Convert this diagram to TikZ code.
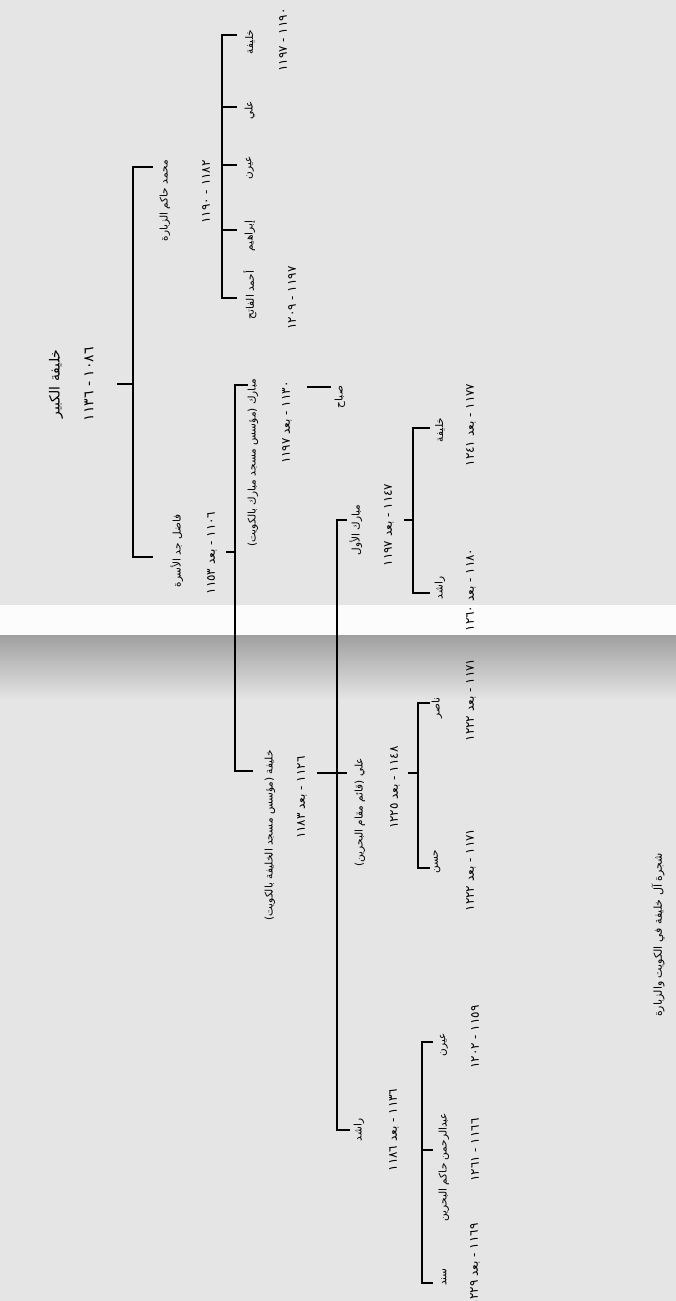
\documentclass[tikz,border=0pt]{standalone}
\usepackage{fontspec}
\newfontfamily\arabicfont[Script=Arabic]{DejaVu Sans}
\TeXXeTstate=1
\usepackage{tikz}
\usetikzlibrary{positioning,calc}

\definecolor{pagegray}{RGB}{229,229,230}
\newcommand{\ar}[1]{\arabicfont\beginR #1\endR}

\begin{document}
\begin{tikzpicture}[x=1pt, y=-1pt,
  tree/.style  = {line width=1.5pt},
  nm/.style    = {rotate=90, anchor=center, inner sep=0pt,
                  font=\fontsize{10.5}{11}\selectfont},
  yr/.style    = {nm, font=\fontsize{12}{13}\selectfont},
  big/.style   = {nm, font=\fontsize{14}{15}\selectfont}
]

% -- page
\fill[pagegray] (0,0) rectangle (676,1301);
\fill[white!90!pagegray] (0,605) rectangle (676,635);
\shade[top color=gray!75, bottom color=pagegray] (0,635) rectangle (676,700);
\useasboundingbox (0,0) rectangle (676,1301);

% -- Khalifa al-Kabir
\node[big] (kbr)  at (56,384) {\ar{خليفة الكبير}};
\node[big] (kbry) at (89,384) {\ar{١٠٨٦ - ١١٣٦}};
\coordinate (k0) at (117,384);
\coordinate (k1) at (133,384);
\coordinate (kt) at (153,167);
\coordinate (kb) at (153,557);
\draw[tree] (k0) -- (k1);
\draw[tree] (kt) -- (kt -| k1) -- (kb -| k1) -- (kb);

\node[nm, anchor=east] (mhd)  at (165,160) {\ar{محمد حاكم الزبارة}};
\node[yr, anchor=east] (mhdy) at (206,160) {\ar{١١٨٢ - ١١٩٠}};
\node[nm] (fdl)  at (177,551) {\ar{فاضل جد الأسرة}};
\node[yr] (fdly) at (212,553) {\ar{١١٠٦ - بعد ١١٥٣}};

% -- sons of Muhammad
\coordinate (m1) at (222,167);
\coordinate (mt) at (237,35);
\coordinate (mb) at (237,298);
\draw[tree] (mt) -- (mt -| m1) -- (mb -| m1) -- (mb);
\foreach \yy in {107,165,230}
  \draw[tree] (222,\yy) -- (237,\yy);

\node[nm] (mkh)  at (250,42)  {\ar{خليفة}};
\node[yr] (mkhy) at (283,40)  {\ar{١١٩٠ - ١١٩٧}};
\node[nm] (mal)  at (250,110) {\ar{علي}};
\node[nm] (mir)  at (250,168) {\ar{عيرن}};
\node[nm] (mib)  at (250,236) {\ar{إبراهيم}};
\node[nm] (mah)  at (250,295) {\ar{أحمد الفاتح}};
\node[yr] (mahy) at (292,298) {\ar{١١٩٧ - ١٢٠٩}};

% -- sons of Fadil
\coordinate (f0) at (226,552);
\coordinate (f1) at (235,552);
\coordinate (ft) at (248,385);
\coordinate (fb) at (253,771);
\draw[tree] (f0) -- (f1);
\draw[tree] (ft) -- (ft -| f1) -- (fb -| f1) -- (fb);

\node[nm, anchor=east] (mbr)  at (253,379) {\ar{مبارك (مؤسس مسجد مبارك بالكويت)}};
\node[yr, anchor=east] (mbry) at (287,381) {\ar{١١٣٠ - بعد ١١٩٧}};
\node[nm, anchor=east] (khf)  at (270,750) {\ar{خليفة (مؤسس مسجد الخليفة بالكويت)}};
\node[yr, anchor=east] (khfy) at (302,756) {\ar{١١٢٦ - بعد ١١٨٣}};

% -- son of Mubarak
\coordinate (s0) at (307,387);
\coordinate (s1) at (331,387);
\draw[tree] (s0) -- (s1);
\node[nm] (sbh) at (340,397) {\ar{صباح}};

% -- sons of Khalifa
\coordinate (h0) at (317,773);
\coordinate (h1) at (337,773);
\coordinate (ht) at (347,520);
\coordinate (hm) at (347,773);
\coordinate (hb) at (350,1130);
\draw[tree] (h0) -- (hm);
\draw[tree] (ht) -- (ht -| h1) -- (hb -| h1) -- (hb);

\node[nm] (mb1)  at (356,530)  {\ar{مبارك الأول}};
\node[yr] (mb1y) at (389,525)  {\ar{١١٤٧ - بعد ١١٩٧}};
\node[nm, anchor=east] (ali)  at (360,758) {\ar{علي (قائم مقام البحرين)}};
\node[yr, anchor=east] (aliy) at (395,746) {\ar{١١٤٨ - بعد ١٢٢٥}};
\node[nm] (rsd)  at (359,1130) {\ar{راشد}};
\node[yr] (rsdy) at (394,1130) {\ar{١١٣٦ - بعد ١١٨٦}};

% -- sons of Mubarak I
\coordinate (a0) at (404,520);
\coordinate (a1) at (413,520);
\coordinate (at) at (430,428);
\coordinate (ab) at (430,593);
\draw[tree] (a0) -- (a1);
\draw[tree] (at) -- (at -| a1) -- (ab -| a1) -- (ab);

\node[nm] (akh)  at (440,430) {\ar{خليفة}};
\node[yr] (akhy) at (471,425) {\ar{١١٧٧ - بعد ١٢٤١}};
\node[nm] (ars)  at (440,588) {\ar{راشد}};
\node[yr] (arsy) at (471,590) {\ar{١١٨٠ - بعد ١٢٦٠}};

% -- sons of Ali
\coordinate (b0) at (408,773);
\coordinate (b1) at (418,773);
\coordinate (bt) at (430,703);
\coordinate (bb) at (430,868);
\draw[tree] (b0) -- (b1);
\draw[tree] (bt) -- (bt -| b1) -- (bb -| b1) -- (bb);

\node[nm] (bns)  at (437,708) {\ar{ناصر}};
\node[yr] (bnsy) at (471,700) {\ar{١١٧١ - بعد ١٢٢٢}};
\node[nm] (bhs)  at (437,862) {\ar{حسن}};
\node[yr] (bhsy) at (471,870) {\ar{١١٧١ - بعد ١٢٢٢}};

% -- sons of Rashid
\coordinate (r1) at (422,1150);
\coordinate (rt) at (433,1042);
\coordinate (rm) at (433,1150);
\coordinate (rb) at (433,1283);
\draw[tree] (r1) -- (rm);
\draw[tree] (rt) -- (rt -| r1) -- (rb -| r1) -- (rb);

\node[nm] (rir)  at (444,1045) {\ar{عيرن}};
\node[yr] (riry) at (475,1037) {\ar{١١٥٩ - ١٢٠٢}};
\node[nm] (rab)  at (444,1167) {\ar{عبدالرحمن حاكم البحرين}};
\node[yr] (raby) at (475,1150) {\ar{١١٦٦ - ١٢٦١}};
\node[nm] (rsn)  at (444,1277) {\ar{سند}};
\node[yr, anchor=east] (rsny) at (475,1223) {\ar{١١٦٩ - بعد ١٢٢٩}};

% -- caption
\node[nm, font=\fontsize{11}{12}\selectfont] (cap) at (658,935)
     {\ar{شجرة آل خليفة في الكويت والزبارة}};

\end{tikzpicture}
\end{document}
